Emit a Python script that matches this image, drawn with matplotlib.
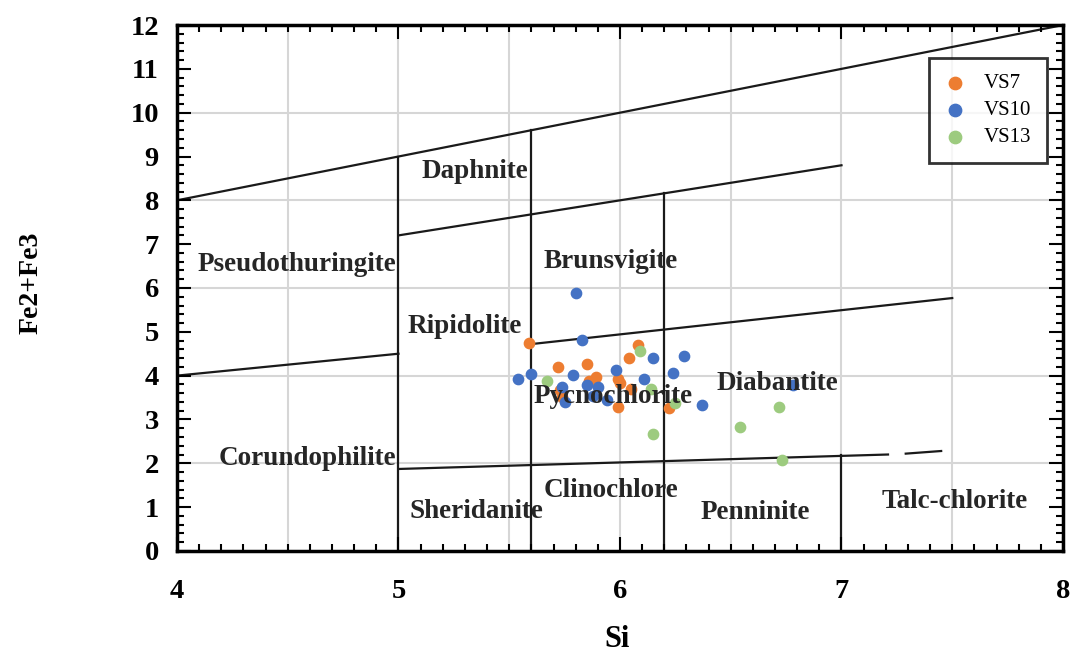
import matplotlib.pyplot as plt
import numpy as np
from matplotlib.ticker import MultipleLocator

plt.rcParams['font.family'] = ['Liberation Serif', 'DejaVu Serif']

# sample points (Si, Fe2+Fe3)
vs7_si = [5.59, 5.72, 5.85, 6.08, 6.04, 5.86, 5.89, 5.99, 6.00, 5.73, 5.74, 6.05, 5.99, 6.22]
vs7_fe = [4.74, 4.19, 4.26, 4.70, 4.41, 3.87, 3.97, 3.93, 3.83, 3.68, 3.52, 3.69, 3.29, 3.27]

vs10_si = [5.80, 5.83, 5.54, 5.60, 5.79, 5.74, 5.75, 5.85, 5.90, 5.88, 5.94, 5.98, 6.11,
           6.15, 6.24, 6.29, 6.37, 6.78]
vs10_fe = [5.88, 4.82, 3.93, 4.04, 4.02, 3.75, 3.39, 3.79, 3.75, 3.54, 3.45, 4.12, 3.93,
           4.40, 4.06, 4.44, 3.33, 3.79]

vs13_si = [5.67, 6.09, 6.14, 6.25, 6.15, 6.54, 6.72, 6.73]
vs13_fe = [3.88, 4.57, 3.70, 3.37, 2.66, 2.83, 3.29, 2.08]

# field boundaries (x1, y1, x2, y2)
boundaries = [
    (4, 8, 8, 12),
    (5, 7.2, 7, 8.8),
    (5, 0, 5, 9),
    (5.6, 0, 5.6, 9.6),
    (6.2, 0, 6.2, 8.16),
    (4, 4.0, 5, 4.5),
    (5.6, 4.72, 7.5, 5.77),
    (5, 1.87, 7.21, 2.2),
    (7.29, 2.22, 7.45, 2.28),
    (7, 0, 7, 2.18),
]

# field names and where they sit
names = ['Daphnite', 'Brunsvigite', 'Pseudothuringite', 'Ripidolite', 'Pycnochlorite',
         'Diabantite', 'Corundophilite', 'Clinochlore', 'Sheridanite', 'Penninite',
         'Talc-chlorite']
name_x = [5.345, 5.96, 4.54, 5.30, 5.97, 6.71, 4.59, 5.96, 5.35, 6.61, 7.51]
name_y = [8.65, 6.6, 6.53, 5.11, 3.52, 3.81, 2.12, 1.39, 0.89, 0.87, 1.12]

fig = plt.figure(figsize=(10.77, 6.59), dpi=100)
ax = fig.add_axes([0.1643, 0.164, 0.8227, 0.798])

ax.set_xlim(4, 8)
ax.set_ylim(0, 12)
ax.set_xticks([4, 5, 6, 7, 8])
ax.set_yticks(range(0, 13))
ax.xaxis.set_minor_locator(MultipleLocator(0.1))
ax.yaxis.set_minor_locator(MultipleLocator(0.2))

# light grid
for gx in [4.5, 5, 5.5, 6, 6.5, 7, 7.5]:
    ax.axvline(gx, color='#d6d6d6', lw=1.5, zorder=0)
for gy in [2, 4, 6, 8, 10]:
    ax.axhline(gy, color='#d6d6d6', lw=1.5, zorder=0)

for x1, y1, x2, y2 in boundaries:
    ax.plot([x1, x2], [y1, y2], color='#1a1a1a', lw=1.6, zorder=1)

for n, x, y in zip(names, name_x, name_y):
    ax.text(x, y, n, ha='center', va='center', fontsize=19.5, fontweight='bold',
            color='#262626', zorder=4)

ax.scatter(vs7_si, vs7_fe, s=55, color='#ED7D31', label='VS7', zorder=3)
ax.scatter(vs10_si, vs10_fe, s=55, color='#4472C4', label='VS10', zorder=3)
ax.scatter(vs13_si, vs13_fe, s=55, color='#9DCB7F', label='VS13', zorder=3)

ax.tick_params(which='both', direction='in', top=True, right=True, width=1.5)
ax.tick_params(which='major', length=10, labelsize=20.5, pad=13)
ax.tick_params(which='minor', length=5)
for lab in ax.get_xticklabels() + ax.get_yticklabels():
    lab.set_fontweight('bold')
ax.tick_params(axis='x', which='major', pad=20)
for sp in ax.spines.values():
    sp.set_linewidth(2.5)

ax.set_xlabel('Si', fontsize=22, fontweight='bold')
ax.xaxis.set_label_coords(0.497, -0.14)
ax.set_ylabel('Fe2+Fe3', fontsize=20, fontweight='bold')
ax.yaxis.set_label_coords(-0.15, 0.51)

leg = ax.legend(loc='upper right', bbox_to_anchor=(0.982, 0.937), fontsize=15,
                frameon=True, fancybox=False, handlelength=1.0, handletextpad=0.9,
                borderpad=0.75, labelspacing=0.35, scatterpoints=1, markerscale=1.2,
                borderaxespad=0)
leg.get_frame().set_edgecolor('black')
leg.get_frame().set_linewidth(2)

plt.savefig('out.png', dpi=100)
